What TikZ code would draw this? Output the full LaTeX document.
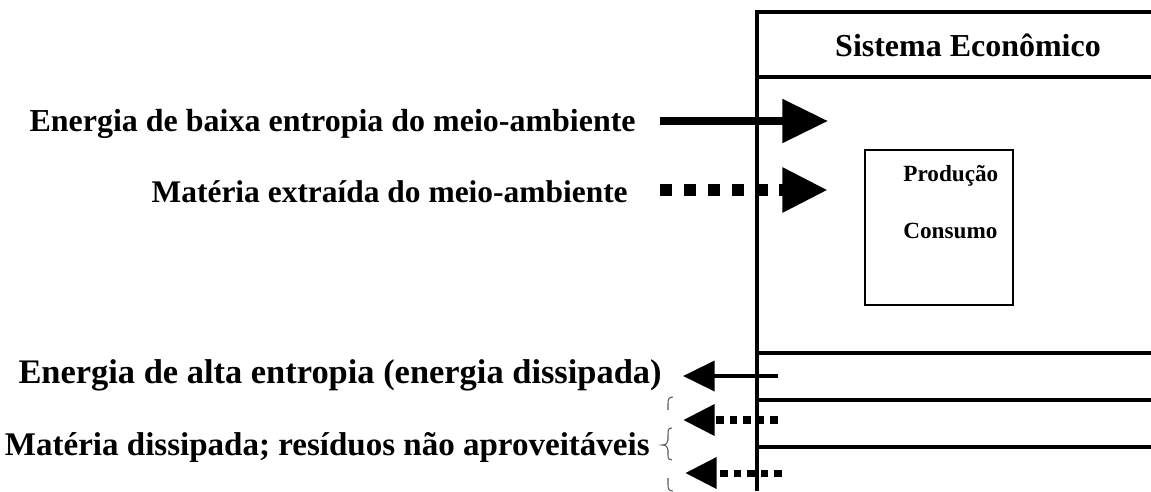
\documentclass[tikz,border=0pt]{standalone}
\usepackage{fontspec}
\setmainfont{Liberation Serif}
\usepackage{tikz}
\usetikzlibrary{arrows.meta}

\begin{document}
\begin{tikzpicture}[x=0.02cm, y=-0.02cm]
		\tikzset{frame/.style={line width = 2.2pt}}
		\tikzset{txt/.style={font=\fontsize{#1}{22}\selectfont\bfseries, inner sep=0pt}}
		\tikzset{bigin/.style={-{Triangle[length=26pt, width=24pt]}}}
		\tikzset{bigout/.style={-{Triangle[length=18pt, width=17pt]}}}
		\useasboundingbox (0, 0) rectangle (1151, 491);
		%frame
		\coordinate (ftop) at (757, 12);
		\coordinate (fbot) at (757, 491);
		\draw[frame] (fbot) -- (ftop) -- (1151, 12);
		\draw[frame] (757, 77) -- (1151, 77);
		\draw[frame] (757, 353) -- (1151, 353);
		\draw[frame] (757, 400) -- (1151, 400);
		\draw[frame] (757, 447) -- (1151, 447);
		\draw[line width = 1.1pt] (865, 150) rectangle (1013, 305);
		%texts
		\node[txt=18.2, anchor=base] (sis) at (968, 56) {Sistema Econômico};
		\node[txt=13.2, anchor=base west] (prod) at (903, 181) {Produção};
		\node[txt=13.2, anchor=base west] (cons) at (903, 238) {Consumo};
		\node[txt=18.2, anchor=base east] (ebaixa) at (636, 131) {Energia de baixa entropia do meio-ambiente};
		\node[txt=17.9, anchor=base east] (mextr) at (628, 202) {Matéria extraída do meio-ambiente};
		\node[txt=19.6, anchor=base east] (ealta) at (662, 383) {Energia de alta entropia (energia dissipada)};
		\node[txt=18.8, anchor=base east] (mdiss) at (650, 455) {Matéria dissipada; resíduos não aproveitáveis};
		%arrows
		\coordinate (a1) at (660, 121);  \coordinate (b1) at (828, 121);
		\coordinate (a2) at (660, 190);  \coordinate (b2) at (828, 190);
		\coordinate (a3) at (778, 376);  \coordinate (b3) at (683, 376);
		\coordinate (a4) at (778, 420);  \coordinate (b4) at (683, 420);
		\coordinate (a5) at (782, 473);  \coordinate (b5) at (685, 473);
		\draw[bigin, line width = 4.5pt] (a1) -- (b1);
		\draw[bigin, line width = 6.8pt, dash pattern = on 6.8pt off 6.8pt] (a2) -- (b2);
		\draw[bigout, line width = 2.3pt] (a3) -- (b3);
		\draw[bigout, line width = 4pt, dash pattern = on 4.5pt off 3.2pt] (a4) -- (b4);
		\draw[bigout, line width = 4pt, dash pattern = on 4.5pt off 3.2pt] (a5) -- (b5);
		%brace
		\draw[gray!70!black, line width = 0.6pt] (673, 397) .. controls (669, 397) and (668, 399) .. (668, 403) -- (668, 410);
		\draw[gray!70!black, line width = 0.6pt] (672, 428) .. controls (668, 428) and (668, 430) .. (668, 435) -- (668, 440)
			.. controls (668, 443) and (666, 445) .. (662, 445) .. controls (666, 445) and (668, 447) .. (668, 450)
			-- (668, 455) .. controls (668, 459) and (669, 460) .. (672, 460);
		\draw[gray!70!black, line width = 0.6pt] (668, 478) -- (668, 485) .. controls (668, 489) and (669, 491) .. (673, 491);
		\end{tikzpicture}
\end{document}
